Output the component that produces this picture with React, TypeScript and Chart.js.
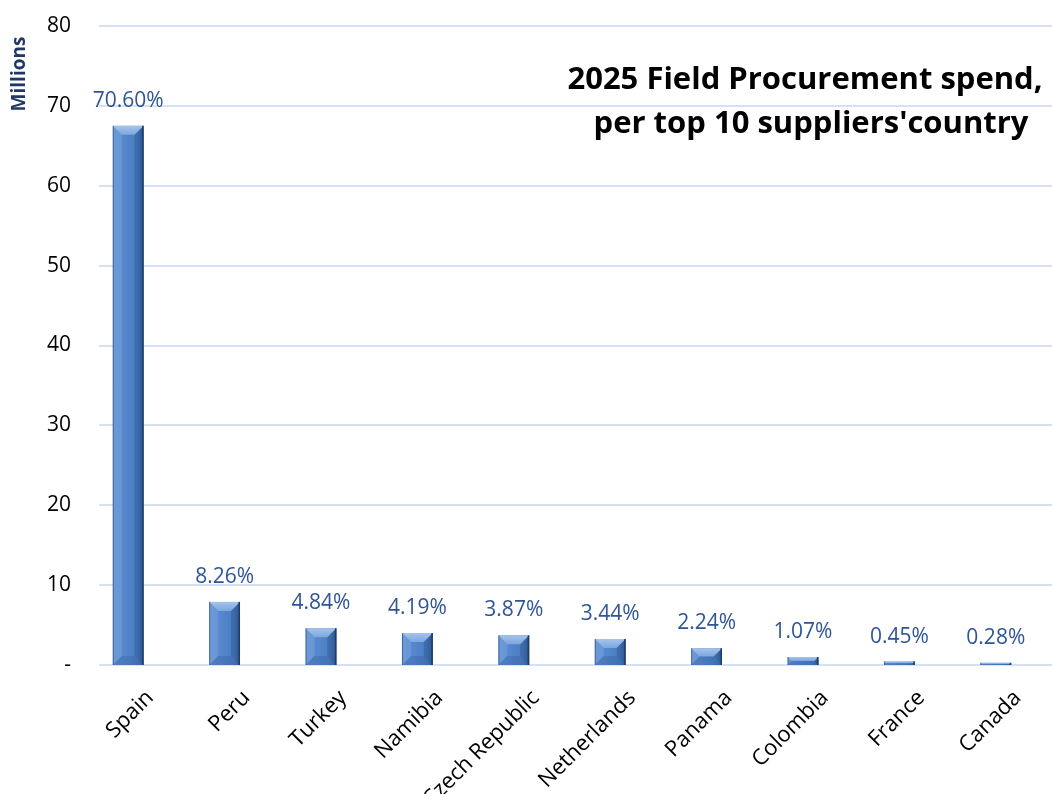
import React, { useEffect, useRef } from "react";
import { Chart, registerables } from "chart.js";

Chart.register(...registerables);

const categories = [
  "Spain",
  "Peru",
  "Turkey",
  "Namibia",
  "Czech Republic",
  "Netherlands",
  "Panama",
  "Colombia",
  "France",
  "Canada",
];
const spendMillions = [67.5, 7.9, 4.6, 4.0, 3.72, 3.25, 2.1, 1.0, 0.43, 0.27];
const percentLabels = [
  "70.60%",
  "8.26%",
  "4.84%",
  "4.19%",
  "3.87%",
  "3.44%",
  "2.24%",
  "1.07%",
  "0.45%",
  "0.28%",
];
const titleLines = ["2025 Field Procurement spend,", "per top 10 suppliers'country"];
const yAxisTitle = "Millions";

const FONT = "'Open Sans', 'Liberation Sans', sans-serif";

const gridPlugin = {
  id: "customGrid",
  beforeDatasetsDraw(chart: any) {
    const ctx = chart.ctx;
    const ys = chart.scales.y;
    ctx.save();
    ctx.strokeStyle = "#D6E2F3";
    ctx.lineWidth = 2;
    ys.ticks.forEach((t: any) => {
      const y = Math.round(ys.getPixelForValue(t.value));
      ctx.beginPath();
      ctx.moveTo(99, y);
      ctx.lineTo(chart.width, y);
      ctx.stroke();
    });
    ctx.restore();
  },
};

const bevelBarPlugin = {
  id: "bevelBars",
  afterDatasetsDraw(chart: any) {
    const ctx = chart.ctx;
    const meta = chart.getDatasetMeta(0);
    ctx.save();
    meta.data.forEach((bar: any, i: number) => {
      const l = bar.x - bar.width / 2;
      const r = bar.x + bar.width / 2;
      const t = bar.y;
      const btm = bar.base;
      const h = btm - t;
      const w = r - l;
      if (h <= 0) return;
      const b = Math.min(9, h / 2, w / 2);
      // main body gradient
      const g = ctx.createLinearGradient(l, 0, r, 0);
      g.addColorStop(0, "#5F8ECF");
      g.addColorStop(0.35, "#5688CF");
      g.addColorStop(0.8, "#4A7CC0");
      g.addColorStop(1, "#3563A0");
      ctx.fillStyle = g;
      ctx.fillRect(l, t, w, h);
      // top bevel
      const gt = ctx.createLinearGradient(0, t, 0, t + b);
      gt.addColorStop(0, "#A4C4EC");
      gt.addColorStop(1, "#7DA6DC");
      ctx.fillStyle = gt;
      ctx.beginPath();
      ctx.moveTo(l, t);
      ctx.lineTo(r, t);
      ctx.lineTo(r - b, t + b);
      ctx.lineTo(l + b, t + b);
      ctx.closePath();
      ctx.fill();
      // left bevel
      ctx.fillStyle = "rgba(150,190,235,0.25)";
      ctx.beginPath();
      ctx.moveTo(l, t);
      ctx.lineTo(l + b, t + b);
      ctx.lineTo(l + b, btm - b);
      ctx.lineTo(l, btm);
      ctx.closePath();
      ctx.fill();
      // right bevel
      ctx.fillStyle = "rgba(20,45,90,0.22)";
      ctx.beginPath();
      ctx.moveTo(r, t);
      ctx.lineTo(r - b, t + b);
      ctx.lineTo(r - b, btm - b);
      ctx.lineTo(r, btm);
      ctx.closePath();
      ctx.fill();
      // bottom bevel
      ctx.fillStyle = "rgba(40,80,140,0.25)";
      ctx.beginPath();
      ctx.moveTo(l, btm);
      ctx.lineTo(r, btm);
      ctx.lineTo(r - b, btm - b);
      ctx.lineTo(l + b, btm - b);
      ctx.closePath();
      ctx.fill();
      // outline edges
      ctx.strokeStyle = "#1E3C66";
      ctx.lineWidth = 1.5;
      ctx.beginPath();
      ctx.moveTo(r - 0.75, t);
      ctx.lineTo(r - 0.75, btm);
      ctx.stroke();
      ctx.strokeStyle = "rgba(40,70,120,0.6)";
      ctx.lineWidth = 1;
      ctx.beginPath();
      ctx.moveTo(l + 0.5, t);
      ctx.lineTo(l + 0.5, btm);
      ctx.stroke();

      // data label
      ctx.fillStyle = "#2F5597";
      ctx.font = `21px ${FONT}`;
      ctx.textAlign = "center";
      ctx.textBaseline = "middle";
      ctx.fillText(percentLabels[i], bar.x, t - 25);
    });
    ctx.restore();
  },
};

const textPlugin = {
  id: "titles",
  afterDraw(chart: any) {
    const ctx = chart.ctx;
    ctx.save();
    ctx.fillStyle = "#000000";
    ctx.font = `bold 31px ${FONT}`;
    ctx.textAlign = "center";
    ctx.textBaseline = "alphabetic";
    ctx.fillText(titleLines[0], 805, 89);
    ctx.fillText(titleLines[1], 811, 133);

    ctx.translate(20, 74);
    ctx.rotate(-Math.PI / 2);
    ctx.fillStyle = "#1F3864";
    ctx.font = `bold 19px ${FONT}`;
    ctx.textAlign = "center";
    ctx.textBaseline = "middle";
    ctx.fillText(yAxisTitle, 0, 0);
    ctx.restore();
  },
};

export default function App() {
  const canvasRef = useRef<HTMLCanvasElement | null>(null);

  useEffect(() => {
    document.body.style.margin = "0";
    const canvas = canvasRef.current;
    if (!canvas) return;
    const chart = new Chart(canvas, {
      type: "bar",
      data: {
        labels: categories,
        datasets: [
          {
            data: spendMillions,
            backgroundColor: "rgba(0,0,0,0)",
            borderWidth: 0,
            categoryPercentage: 1,
            barPercentage: 0.32,
          },
        ],
      },
      options: {
        responsive: false,
        animation: false,
        devicePixelRatio: 1,
        layout: { padding: { top: 26, right: 8, left: 0, bottom: 0 } },
        plugins: {
          legend: { display: false },
          title: { display: false },
          tooltip: { enabled: false },
        },
        scales: {
          y: {
            min: 0,
            max: 80,
            ticks: {
              stepSize: 10,
              color: "#000000",
              font: { family: FONT, size: 21 },
              padding: 9,
              callback: (v: any) => (Number(v) === 0 ? "-" : String(v)),
            },
            grid: { display: false, drawTicks: false },
            border: { display: false },
            afterFit: (s: any) => {
              s.width = 80;
            },
          },
          x: {
            ticks: {
              color: "#000000",
              font: { family: FONT, size: 22 },
              maxRotation: 45,
              minRotation: 45,
              autoSkip: false,
              padding: 12,
              labelOffset: 22,
            },
            grid: { display: false },
            border: { display: false },
            afterFit: (s: any) => {
              s.height = 129;
            },
          },
        },
      },
      plugins: [gridPlugin, bevelBarPlugin, textPlugin],
    });
    return () => chart.destroy();
  }, []);

  return (
    <div style={{ width: 1052, height: 794, background: "#ffffff" }}>
      <canvas ref={canvasRef} width={1052} height={794} />
    </div>
  );
}
